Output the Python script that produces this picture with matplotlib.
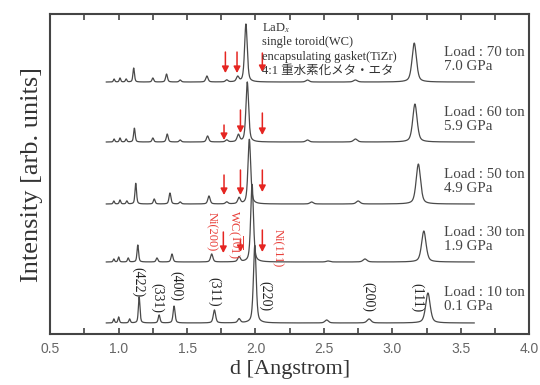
import numpy as np
import matplotlib
matplotlib.use("Agg")
import matplotlib.pyplot as plt
from matplotlib.ticker import MultipleLocator

plt.rcParams['mathtext.fontset'] = 'stix'

# load labels, top to bottom
loads = ['Load : 70 ton', 'Load : 60 ton', 'Load : 50 ton', 'Load : 30 ton', 'Load : 10 ton']
pressures = ['7.0 GPa', '5.9 GPa', '4.9 GPa', '1.9 GPa', '0.1 GPa']

# peak positions (d, Angstrom) and heights (arb.)
pk_70 = [0.967, 1.01, 1.055, 1.11, 1.25, 1.35, 1.45, 1.645, 1.79, 1.87, 1.93, 2.38, 2.73, 3.16]
ht_70 = [3, 4, 3, 14, 4, 8, 2, 6, 2, 5, 58, 2, 2, 39]
pk_60 = [0.967, 1.01, 1.055, 1.115, 1.25, 1.355, 1.45, 1.65, 1.79, 1.875, 1.94, 2.38, 2.73, 3.165]
ht_60 = [3, 4, 3, 14, 4, 8, 2, 6, 2, 7, 60, 2, 3, 38]
pk_50 = [0.965, 1.01, 1.06, 1.125, 1.26, 1.375, 1.45, 1.66, 1.79, 1.88, 1.955, 2.41, 2.75, 3.19]
ht_50 = [3, 4, 3, 21, 5, 11, 2, 8, 2, 6, 65, 2, 3, 40]
pk_30 = [0.965, 1.0, 1.07, 1.14, 1.28, 1.39, 1.68, 1.88, 1.975, 2.53, 2.80, 3.23]
ht_30 = [3, 5, 4, 17, 4, 8, 8, 5, 78, 1, 3, 31]
pk_10 = [0.965, 1.0, 1.08, 1.15, 1.296, 1.405, 1.70, 1.88, 1.995, 2.52, 2.83, 3.26]
ht_10 = [4, 6, 4, 26, 8, 17, 13, 4, 78, 3, 4, 30]

peaks = [pk_70, pk_60, pk_50, pk_30, pk_10]
heights = [ht_70, ht_60, ht_50, ht_30, ht_10]
offsets = [252, 192, 130, 72, 11]

# Miller indices of the LaD2 lines, 10 ton pattern
hkl = ['(422)', '(331)', '(400)', '(311)', '(220)', '(200)', '(111)']
hkl_d = [1.142, 1.28, 1.42, 1.70, 2.07, 2.82, 3.18]
hkl_y = [52, 36, 48, 42, 38, 37, 36]

d = np.arange(0.91, 3.6, 0.002)


def pattern(pos, hgt):
    y = np.zeros_like(d)
    for p, h in zip(pos, hgt):
        w = 0.012 * p
        g = np.exp(-4 * np.log(2) * ((d - p) / w) ** 2)
        lo = 1 / (1 + 4 * ((d - p) / w) ** 2)
        y += h * (0.5 * g + 0.5 * lo)
    return y


fig = plt.figure(figsize=(5.4, 3.85), dpi=100)
ax = fig.add_axes([0.093, 0.1325, 0.887, 0.831])

for pos, hgt, off in zip(peaks, heights, offsets):
    ax.plot(d, pattern(pos, hgt) + off, color='#4a4a4a', lw=0.9)

serif = ['Liberation Serif', 'Noto Sans CJK JP']
for i, (l, p) in enumerate(zip(loads, pressures)):
    yy = offsets[i]
    ax.text(3.375, yy + 30, l, fontsize=10.8, family=serif, color='#444444', va='center')
    ax.text(3.375, yy + 16, p, fontsize=10.8, family=serif, color='#444444', va='center')

for lab, x, y in zip(hkl, hkl_d, hkl_y):
    ax.text(x, y, lab, rotation=-90, fontsize=10, family=serif, color='#222222',
            ha='center', va='center')

# red arrows marking Ni / WC lines
arrows = [(1.78, 282, 261), (1.865, 282, 261), (2.05, 281, 262),
          (1.77, 209, 194), (1.89, 224, 201), (2.05, 221, 199),
          (1.77, 159, 139), (1.89, 164, 139), (2.05, 164, 142),
          (1.765, 102, 81), (1.89, 94, 82), (2.05, 104, 82)]
for x, y0, y1 in arrows:
    ax.annotate('', xy=(x, y1), xytext=(x, y0),
                arrowprops=dict(arrowstyle='-|>,head_width=0.2,head_length=0.38',
                                color='#e52521', lw=1.1, shrinkA=0, shrinkB=0))

ax.text(1.675, 102, 'Ni(200)', rotation=-90, fontsize=9, family=serif,
        color='#e8403a', ha='center', va='center')
ax.text(1.85, 100, r'WC($\overline{10}$1)', rotation=-90, fontsize=9, family=serif,
        color='#e8403a', ha='center', va='center')
ax.text(2.157, 86, 'Ni(111)', rotation=-90, fontsize=9, family=serif,
        color='#e8403a', ha='center', va='center')

info = ['LaD$_x$', 'single toroid(WC)', 'encapsulating gasket(TiZr)', '4:1 重水素化メタ・エタ']
for i, s in enumerate(info):
    ax.text(2.05, 306 - 14.3 * i, s, fontsize=9, family=serif, color='#333333', va='center')

ax.set_xlim(0.5, 4.0)
ax.set_ylim(0, 320)
ax.xaxis.set_major_locator(MultipleLocator(0.5))
ax.xaxis.set_minor_locator(MultipleLocator(0.25))
ax.set_yticks([])
ax.tick_params(axis='x', which='both', direction='in', top=True, length=4,
               width=1.2, color='#444444', labelsize=10, labelcolor='#666666', pad=6)
for lab in ax.get_xticklabels():
    lab.set_family('Liberation Sans')
for s in ax.spines.values():
    s.set_color('#444444')
    s.set_linewidth(1.5)

ax.set_xlabel('d [Angstrom]', fontsize=16, family='Liberation Serif', color='#333333', labelpad=3)
ax.set_ylabel('Intensity [arb. units]', fontsize=19, family='Liberation Serif', color='#333333', labelpad=5)

fig.savefig('out.png', dpi=100)
